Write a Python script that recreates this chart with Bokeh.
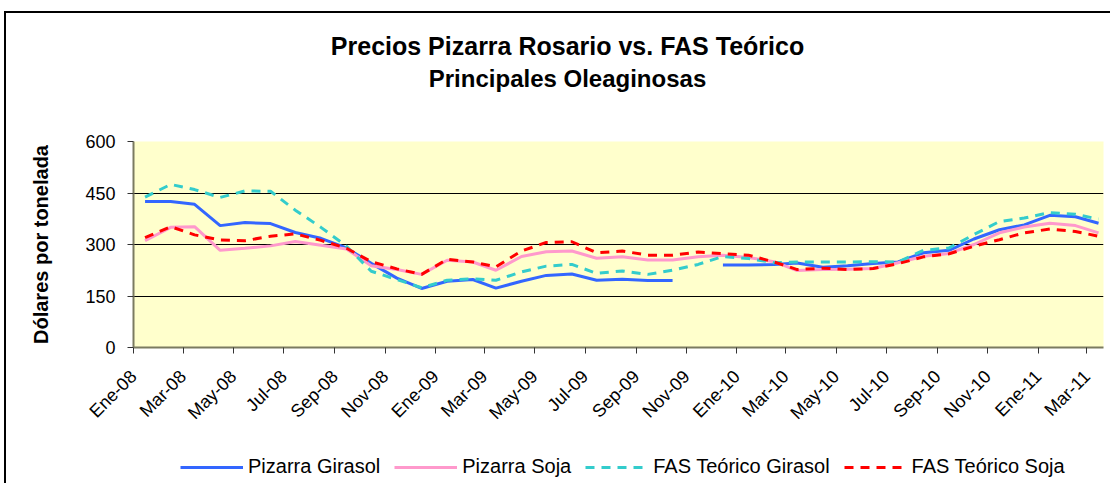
import numpy as np
import pandas as pd
from math import pi
from bokeh.plotting import figure
from bokeh.layouts import column
from bokeh.models import Range1d, FixedTicker, Legend, LegendItem, Label
from bokeh.embed import file_html
from bokeh.resources import INLINE

# ---------------- data ----------------
months = pd.date_range("2008-01-01", "2011-03-01", freq="MS")
obs_dates = months + pd.Timedelta(days=14)

tick_labels = ["Ene-08", "Mar-08", "May-08", "Jul-08", "Sep-08", "Nov-08",
               "Ene-09", "Mar-09", "May-09", "Jul-09", "Sep-09", "Nov-09",
               "Ene-10", "Mar-10", "May-10", "Jul-10", "Sep-10", "Nov-10",
               "Ene-11", "Mar-11"]
tick_dates = pd.date_range("2008-01-01", periods=len(tick_labels), freq="2MS")

series_names = ["Pizarra Girasol", "Pizarra Soja", "FAS Teórico Girasol", "FAS Teórico Soja"]
titles = ["Precios Pizarra Rosario vs. FAS Teórico", "Principales Oleaginosas"]

nan = float("nan")
pizarra_girasol = [425, 425, 417, 355, 364, 361, 335, 318, 290, 245,
                   202, 172, 193, 198, 173, 193, 210, 214, 196, 199,
                   195, 195, nan, 240, 240, 242, 246, 234, 238, 245,
                   249, 276, 283, 316, 343, 357, 385, 381, 362]
pizarra_soja = [311, 350, 352, 283, 289, 296, 309, 298, 287, 238,
                227, 213, 254, 249, 225, 265, 279, 281, 260, 264,
                255, 255, 264, 269, 262, 250, 224, 227, 228, 230,
                247, 266, 274, 300, 334, 351, 362, 355, 334]
fas_girasol = [438, 475, 460, 437, 456, 455, 400, 350, 295, 222,
               198, 174, 196, 200, 196, 220, 237, 242, 216, 223,
               213, 225, 242, 265, 259, 247, 249, 249, 249, 250,
               249, 283, 290, 329, 367, 377, 393, 388, 374]
fas_soja = [320, 352, 328, 313, 311, 324, 331, 312, 289, 250,
            229, 213, 257, 249, 235, 281, 306, 308, 276, 281,
            269, 269, 278, 273, 269, 249, 227, 231, 227, 230,
            244, 264, 273, 295, 314, 334, 345, 338, 324]
all_series = [pizarra_girasol, pizarra_soja, fas_girasol, fas_soja]

y_ticks = [0, 150, 300, 450, 600]
grid_values = [150, 300, 450]


def ms(d):
    return np.asarray(pd.DatetimeIndex(d).values.astype("datetime64[ms]").astype("int64"), dtype=float)


x = ms(obs_dates)
tx = ms(tick_dates)
x_start = ms(pd.DatetimeIndex(["2008-01-01"]))[0]
x_end = ms(pd.DatetimeIndex(["2011-03-21"]))[0]

FONT = "Liberation Sans"
W = 1104
BL, BR = 127, 7          # side borders shared by all three strips
FRAME_W = W - BL - BR
styles = [dict(line_color="#3366FF", line_width=3),
          dict(line_color="#FF99CC", line_width=3),
          dict(line_color="#33CCCC", line_width=3, line_dash="9 7"),
          dict(line_color="#FF0000", line_width=3, line_dash="9 7")]


def strip_fig(h):
    f = figure(width=W, height=h, output_backend="svg", toolbar_location=None,
               x_range=Range1d(0, FRAME_W), y_range=Range1d(0, h),
               x_axis_location=None, y_axis_location=None,
               min_border_left=BL, min_border_right=BR,
               min_border_top=0, min_border_bottom=0)
    f.grid.visible = False
    f.outline_line_color = None
    f.background_fill_color = "white"
    f.border_fill_color = "white"
    return f


# ---------------- title strip ----------------
TOP_H = 108
p_top = strip_fig(TOP_H)
for txt, yy, fs in zip(titles, [76, 43], ["25px", "24px"]):
    p_top.add_layout(Label(x=434, y=yy, text=txt, text_align="center",
                           text_baseline="middle", text_font=FONT,
                           text_font_style="bold", text_font_size=fs,
                           text_color="black"))

# ---------------- main chart ----------------
p = figure(width=W, height=319, output_backend="svg", toolbar_location=None,
           x_range=Range1d(x_start, x_end), y_range=Range1d(0, 600),
           min_border_left=BL, min_border_right=BR, min_border_top=20,
           min_border_bottom=93)
p.background_fill_color = "#FFFFCC"
p.border_fill_color = "white"
p.outline_line_color = None

p.yaxis.ticker = FixedTicker(ticks=y_ticks)
p.yaxis.major_tick_out = 6
p.yaxis.major_tick_in = 0
p.yaxis.minor_tick_line_color = None
p.yaxis.axis_line_color = "#7b7b60"
p.yaxis.axis_line_width = 2
p.yaxis.major_tick_line_color = "#333333"
p.yaxis.major_label_text_font = FONT
p.yaxis.major_label_text_font_size = "18px"
p.yaxis.major_label_text_color = "black"
p.yaxis.major_label_standoff = 12
p.yaxis.axis_label = "Dólares por tonelada"
p.yaxis.axis_label_text_font = FONT
p.yaxis.axis_label_text_font_style = "bold"
p.yaxis.axis_label_text_font_size = "20px"
p.yaxis.axis_label_text_color = "black"
p.yaxis.axis_label_standoff = 30

p.xaxis.ticker = FixedTicker(ticks=list(tx))
p.xaxis.major_label_overrides = {int(t): lab for t, lab in zip(tx, tick_labels)}
p.xaxis.major_label_orientation = pi / 4
p.xaxis.major_tick_out = 6
p.xaxis.major_tick_in = 0
p.xaxis.minor_tick_line_color = None
p.xaxis.axis_line_color = "#7b7b60"
p.xaxis.axis_line_width = 2
p.xaxis.major_tick_line_color = "#333333"
p.xaxis.major_label_text_font = FONT
p.xaxis.major_label_text_font_size = "18px"
p.xaxis.major_label_text_color = "black"
p.xaxis.major_label_standoff = 20

p.xgrid.grid_line_color = None
p.ygrid.ticker = FixedTicker(ticks=grid_values)
p.ygrid.grid_line_color = "black"
p.ygrid.grid_line_width = 1

for vals, st in zip(all_series, styles):
    p.line(x, vals, **st)

# ---------------- legend strip ----------------
# the same series are attached here (they fall outside this strip's range,
# so only their legend glyphs are visible)
LEG_H = 43
p_leg = strip_fig(LEG_H)
items = []
for name, vals, st in zip(series_names, all_series, styles):
    r = p_leg.line(x, vals, **st)
    items.append(LegendItem(label=name, renderers=[r]))
legend = Legend(items=items, orientation="horizontal", location=(47, 5),
                padding=0, margin=0, spacing=14, label_standoff=5,
                glyph_width=63, glyph_height=20, label_height=20,
                label_text_font=FONT, label_text_font_size="20px",
                label_text_color="black",
                border_line_color=None, background_fill_alpha=0)
p_leg.add_layout(legend)

layout = column(p_top, p, p_leg, spacing=0)
layout.styles = {"border-left": "2px solid black", "border-top": "2px solid black",
                 "margin-top": "11px", "margin-left": "4px"}

open("out.html", "w").write(file_html(layout, INLINE))
